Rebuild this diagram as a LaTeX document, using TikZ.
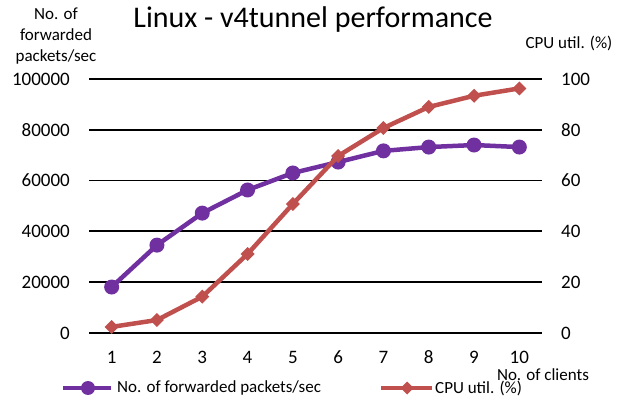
\documentclass[tikz,border=0pt]{standalone}
\usepackage{fontspec}
\setmainfont{Carlito}
\definecolor{pktpurple}{RGB}{112,48,160}
\definecolor{cpured}{RGB}{192,80,77}
\tikzset{
  gridline/.style={black, line width=1.8pt},
  pktline/.style={pktpurple, line width=4.5pt, line join=round},
  cpuline/.style={cpured, line width=4.5pt, line join=round},
  ticklabel/.style={font=\fontsize{19}{19}\selectfont, inner sep=0pt},
  smalllabel/.style={font=\fontsize{17}{21}\selectfont, inner sep=0pt},
}
\begin{document}
\begin{tikzpicture}[x=1pt,y=1pt]
	\useasboundingbox (0,0) rectangle (628,401);
	\node[font=\fontsize{30}{30}\selectfont, inner sep=0pt] (title) at (313,381) {Linux - v4tunnel performance};
	% grid lines with both scales
	\foreach \y/\lv/\rv in {68/0/0, 118.8/20000/20, 169.6/40000/40, 220.4/60000/60, 271.2/80000/80, 322/100000/100}{
		\draw[gridline] (89,\y) -- (542,\y);
		\node[ticklabel, anchor=east] at (70,\y) {\lv};
		\node[ticklabel, anchor=west] at (561,\y) {\rv};
	}
	\node[smalllabel, align=center] (ytitle) at (56,365) {No. of\\forwarded\\packets/sec};
	\node[smalllabel] (cputitle) at (569,358) {CPU util. (\%)};
	% data points
	\foreach \i/\pk/\cpu in {1/18.1/2.4, 2/34.6/5.1, 3/47.2/14.3, 4/56.3/31.1, 5/63/50.8,
		6/67.3/69.7, 7/71.7/80.7, 8/73.2/89, 9/74/93.4, 10/73.2/96.3}{
		\coordinate (p\i) at ({111.65+(\i-1)*45.3},{68+\pk*2.54});
		\coordinate (c\i) at ({111.65+(\i-1)*45.3},{68+\cpu*2.54});
		\node[ticklabel] (x\i) at ({111.65+(\i-1)*45.3},43.5) {\i};
	}
	\node[smalllabel] (xtitle) at (543,26.5) {No. of clients};
	\draw[pktline] (p1) \foreach \i in {2,...,10}{ -- (p\i)};
	\foreach \i in {1,...,10}
		\fill[pktpurple] (p\i) circle (7.5);
	\draw[cpuline] (c1) \foreach \i in {2,...,10}{ -- (c\i)};
	\foreach \i in {1,...,10}
		\fill[cpured] (c\i) +(0,7) -- +(7,0) -- +(0,-7) -- +(-7,0) -- cycle;
	% legend
	\draw[pktline] (63,13) -- (111,13);
	\fill[pktpurple] (88,13) circle (7);
	\node[smalllabel, anchor=west] (pktkey) at (117,13) {No. of forwarded packets/sec};
	\draw[cpuline] (381,13) -- (432,13);
	\fill[cpured] (407,13) +(0,6.5) -- +(6.5,0) -- +(0,-6.5) -- +(-6.5,0) -- cycle;
	\node[smalllabel, anchor=west] (cpukey) at (435,13) {CPU util. (\%)};
\end{tikzpicture}
\end{document}
